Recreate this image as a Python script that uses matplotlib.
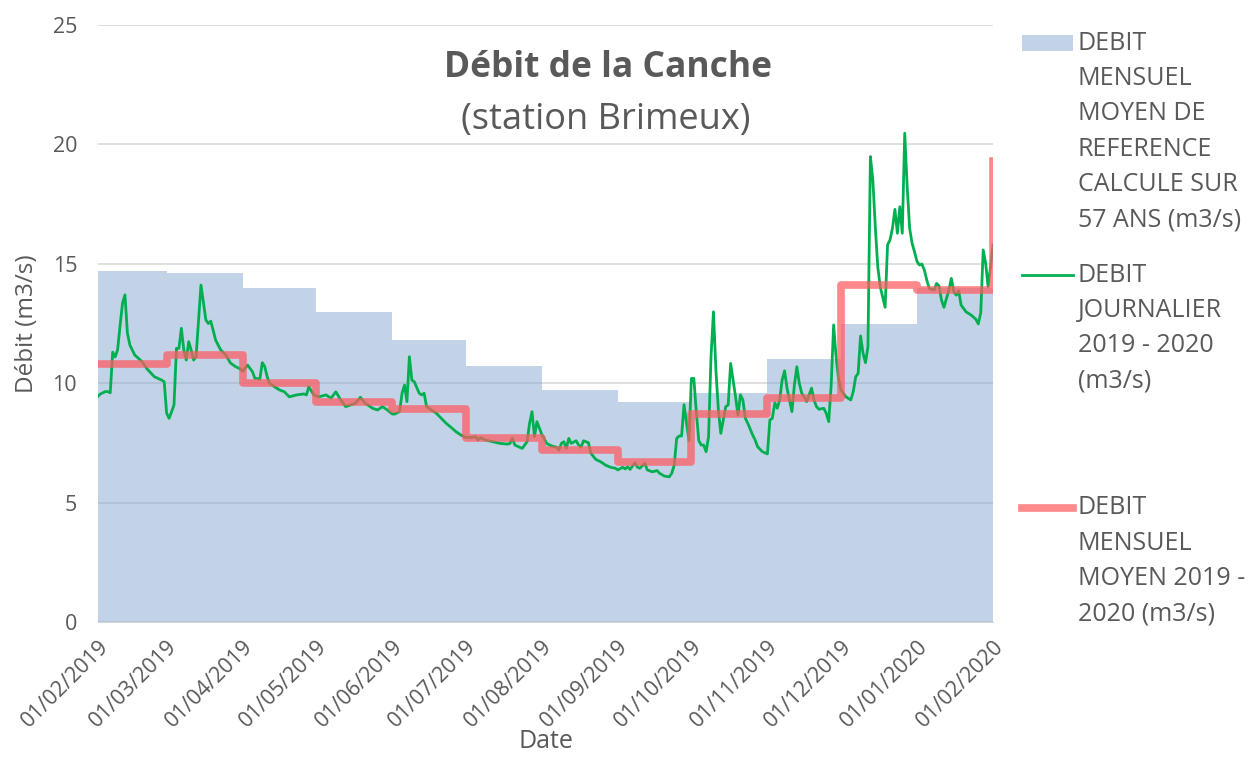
import numpy as np
import matplotlib.pyplot as plt
import matplotlib.dates as mdates
from matplotlib.lines import Line2D
from matplotlib.patches import Rectangle

plt.rcParams['font.family'] = ['Open Sans', 'DejaVu Sans']

# --- données ---
debut = np.datetime64('2019-02-01')

# débuts de mois (le dernier sert à fermer les paliers)
mois = ['2019-02-01', '2019-03-01', '2019-04-01', '2019-05-01', '2019-06-01', '2019-07-01',
        '2019-08-01', '2019-09-01', '2019-10-01', '2019-11-01', '2019-12-01', '2020-01-01',
        '2020-02-01']
debit_ref_57ans = [14.7, 14.6, 14.0, 13.0, 11.8, 10.7, 9.7, 9.2, 9.6, 11.0, 12.5, 14.0, 14.0]
debit_mensuel_2019 = [10.8, 11.2, 10.0, 9.2, 8.9, 7.7, 7.2, 6.7, 8.7, 9.4, 14.1, 13.9, 19.3]

# débit journalier : jour (compté depuis le 01/02/2019) et valeur lue
jours = [0, 1, 2, 3, 4, 5, 6, 7, 8, 9, 10, 11, 12, 13, 15, 18, 20, 23, 26, 27,
         28, 29, 30, 31, 32, 33, 34, 35, 36, 37, 38, 39, 40, 42, 44, 45, 46, 48, 50, 52,
         54, 56, 58, 59, 61, 63, 64, 65, 66, 67, 68, 69, 70, 72, 74, 76, 78, 81, 84, 85,
         86, 88, 90, 93, 95, 97, 99, 101, 103, 105, 107, 109, 112, 114, 116, 118, 120, 121, 123, 124,
         125, 126, 127, 128, 129, 131, 132, 133, 134, 136, 138, 140, 142, 144, 146, 148, 150, 152, 154, 155,
         156, 158, 161, 164, 167, 168, 169, 170, 172, 173, 175, 176, 177, 178, 179, 181, 183, 185, 187, 188,
         189, 190, 191, 192, 193, 195, 196, 197, 198, 200, 201, 203, 205, 207, 209, 211, 212, 214, 215, 216,
         217, 219, 220, 221, 223, 224, 226, 228, 229, 231, 233, 234, 235, 236, 237, 238, 239, 241, 242, 243,
         244, 245, 246, 247, 248, 249, 250, 251, 252, 253, 254, 255, 256, 257, 258, 259, 260, 261, 262, 263,
         264, 265, 267, 268, 269, 271, 273, 274, 275, 276, 277, 278, 279, 280, 281, 282, 283, 284, 285, 286,
         287, 288, 289, 291, 292, 293, 294, 296, 297, 298, 299, 300, 301, 302, 303, 305, 307, 308, 309, 310,
         311, 312, 313, 314, 315, 316, 317, 318, 319, 321, 322, 323, 324, 325, 326, 327, 328, 329, 330, 331,
         332, 333, 334, 335, 336, 337, 338, 339, 341, 342, 343, 344, 345, 347, 348, 349, 350, 351, 352, 354,
         356, 358, 359, 360, 361, 362, 363, 364, 365]
debit_journalier = [9.45, 9.55, 9.6, 9.65, 9.65, 9.6, 11.3, 11.1, 11.4, 12.4, 13.35, 13.7, 12.1, 11.6, 11.18, 10.9, 10.6, 10.27, 10.13, 10.06,
                    8.74, 8.53, 8.8, 9.09, 11.46, 11.46, 12.3, 11.39, 10.97, 11.74, 11.39, 10.97, 11.11, 14.11, 12.65, 12.5, 12.6, 11.8, 11.4, 11.2,
                    10.85, 10.7, 10.6, 10.5, 10.76, 10.48, 10.2, 10.2, 10.16, 10.86, 10.7, 10.27, 10.0, 9.85, 9.72, 9.64, 9.43, 9.51, 9.55, 9.51,
                    9.85, 9.51, 9.43, 9.51, 9.37, 9.64, 9.3, 9.02, 9.09, 9.16, 9.41, 9.16, 8.95, 8.88, 9.02, 8.88, 8.71, 8.71, 8.81, 9.58,
                    9.92, 9.23, 11.11, 10.13, 10.06, 9.58, 9.51, 9.58, 9.02, 8.88, 8.74, 8.53, 8.32, 8.15, 7.97, 7.83, 7.73, 7.73, 7.76, 7.62,
                    7.72, 7.62, 7.55, 7.48, 7.45, 7.48, 7.69, 7.41, 7.32, 7.27, 7.55, 8.32, 8.81, 7.76, 8.39, 7.85, 7.48, 7.37, 7.32, 7.2,
                    7.48, 7.55, 7.27, 7.69, 7.48, 7.59, 7.41, 7.32, 7.59, 7.51, 7.07, 6.81, 6.71, 6.57, 6.48, 6.44, 6.37, 6.48, 6.41, 6.5,
                    6.39, 6.67, 6.48, 6.44, 6.65, 6.37, 6.29, 6.34, 6.23, 6.11, 6.08, 6.23, 6.57, 7.69, 7.79, 7.79, 9.1, 7.6, 10.2, 10.2,
                    8.8, 7.6, 7.41, 7.41, 7.13, 7.76, 11.11, 12.99, 10.55, 8.88, 7.9, 8.46, 9.02, 9.09, 10.83, 10.13, 9.43, 8.67, 9.51, 9.3,
                    8.53, 8.32, 7.83, 7.62, 7.34, 7.13, 7.04, 8.46, 8.53, 9.18, 8.95, 9.3, 10.13, 10.52, 9.79, 9.3, 8.81, 9.92, 10.69, 10.0,
                    9.58, 9.43, 9.23, 9.79, 9.3, 9.02, 8.91, 8.95, 8.74, 8.39, 9.92, 12.44, 11.11, 10.2, 9.72, 9.43, 9.3, 9.64, 10.27, 10.41,
                    11.98, 11.25, 10.86, 11.53, 19.49, 18.51, 16.55, 14.88, 14.04, 13.18, 15.79, 16.0, 16.49, 17.28, 16.28, 17.39, 16.28, 20.47, 18.23, 16.49,
                    15.86, 15.5, 15.1, 14.95, 14.99, 14.74, 14.32, 13.97, 13.9, 14.18, 14.07, 13.48, 13.18, 13.9, 14.39, 13.83, 13.69, 13.87, 13.27, 12.99,
                    12.86, 12.68, 12.48, 12.95, 15.58, 15.02, 14.04, 14.88, 15.79]

gris = '#595959'
bleu = (135/255, 167/255, 209/255)
vert = '#00B050'
rouge = '#FF5A5F'

fig = plt.figure(figsize=(12.53, 7.58), dpi=100)
ax = fig.add_axes([0.0782, 0.1794, 0.7143, 0.7876])

dates_mois = np.array(mois, dtype='datetime64[D]')
dates_jour = debut + np.array(jours)

ax.fill_between(dates_mois, debit_ref_57ans, step='post', color=bleu, alpha=0.5, lw=0, zorder=1)
ax.plot(dates_jour, debit_journalier, color=vert, lw=2.0, zorder=3)
ax.plot(dates_mois, debit_mensuel_2019, drawstyle='steps-post', color=rouge, alpha=0.72,
        lw=5.5, zorder=4)

ax.set_xlim(debut, np.datetime64('2020-02-01'))
ax.set_ylim(0, 25)
ax.set_yticks([0, 5, 10, 15, 20, 25])
ax.yaxis.grid(True, color='#D9D9D9', lw=1.2, zorder=0)
ax.set_axisbelow(True)
ax.xaxis.set_major_locator(mdates.MonthLocator())
ax.xaxis.set_major_formatter(mdates.DateFormatter('%d/%m/%Y'))
ax.tick_params(axis='both', length=0, labelsize=15.5, labelcolor=gris)
ax.tick_params(axis='y', pad=15)
ax.tick_params(axis='x', pad=10)
for lab in ax.get_xticklabels():
    lab.set_rotation(45)
    lab.set_ha('right')
    lab.set_rotation_mode('anchor')
for s in ['top', 'right', 'left']:
    ax.spines[s].set_visible(False)
ax.spines['bottom'].set_color('#D9D9D9')

ax.set_ylabel('Débit (m3/s)', fontsize=17.5, color=gris, labelpad=10)
ax.set_xlabel('Date', fontsize=18, color=gris, labelpad=-2)

fig.text(608 / 1253, 1 - 68 / 758, 'Débit de la Canche', fontsize=25.5, fontweight='bold',
         color=gris, ha='center', va='center')
fig.text(606 / 1253, 1 - 120 / 758, '(station Brimeux)', fontsize=26,
         color=gris, ha='center', va='center')

# --- légende ---
entrees = [
    (43, ['DEBIT', 'MENSUEL', 'MOYEN DE', 'REFERENCE', 'CALCULE SUR', '57 ANS (m3/s)']),
    (275, ['DEBIT', 'JOURNALIER', '2019 - 2020', '(m3/s)']),
    (508, ['DEBIT', 'MENSUEL', 'MOYEN 2019 -', '2020 (m3/s)']),
]
W, H = 1253, 758
fig.add_artist(Rectangle((1022 / W, 1 - 51 / H), 51 / W, 16 / H, transform=fig.transFigure,
                         color=bleu, alpha=0.5, lw=0))
fig.add_artist(Line2D([1022 / W, 1073 / W], [1 - 275 / H] * 2, transform=fig.transFigure,
                      color=vert, lw=2.0))
fig.add_artist(Line2D([1022 / W, 1073 / W], [1 - 508 / H] * 2, transform=fig.transFigure,
                      color=rouge, alpha=0.72, lw=5.5))
for y0, lignes in entrees:
    for i, t in enumerate(lignes):
        fig.text(1078 / W, 1 - (y0 + i * 35.4) / H, t, fontsize=18, color=gris,
                 ha='left', va='center')

fig.savefig('out.png', dpi=100)
